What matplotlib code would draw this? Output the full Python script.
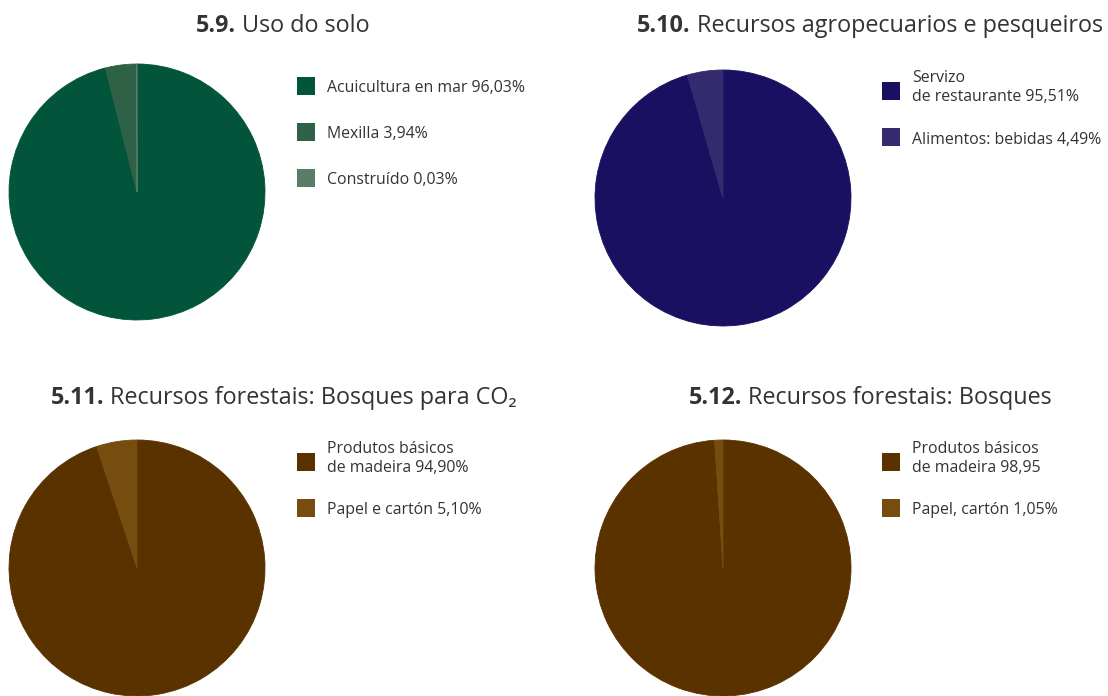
import matplotlib

matplotlib.use('Agg')
import matplotlib.pyplot as plt
from matplotlib.patches import Rectangle

plt.rcParams['font.family'] = ['Open Sans', 'DejaVu Sans']

W, H = 1108, 696
TXT = '#333333'

# chart data (one panel each)
nums = ['5.9.', '5.10.', '5.11.', '5.12.']
titles = ['Uso do solo', 'Recursos agropecuarios e pesqueiros',
          'Recursos forestais: Bosques para CO₂', 'Recursos forestais: Bosques']
soil_vals = [96.03, 3.94, 0.03]
soil_labels = ['Acuicultura en mar 96,03%', 'Mexilla 3,94%', 'Construído 0,03%']
agro_vals = [95.51, 4.49]
agro_labels = ['Servizo\nde restaurante 95,51%', 'Alimentos: bebidas 4,49%']
co2_vals = [94.90, 5.10]
co2_labels = ['Produtos básicos\nde madeira 94,90%', 'Papel e cartón 5,10%']
forest_vals = [98.95, 1.05]
forest_labels = ['Produtos básicos\nde madeira 98,95', 'Papel, cartón 1,05%']

greens = ['#02553a', '#2f6146', '#587c66']
blues = ['#1a1062', '#342b6e']
browns = ['#5a3200', '#764c0f']

# layout in pixels (y from top)
panels = [
    dict(vals=soil_vals, labels=soil_labels, colors=greens,
         c=(137, 192), title=(236, 26), leg=(297, 86)),
    dict(vals=agro_vals, labels=agro_labels, colors=blues,
         c=(723, 198), title=(691, 26), leg=(882, 91)),
    dict(vals=co2_vals, labels=co2_labels, colors=browns,
         c=(137, 568), title=(104, 398), leg=(297, 462)),
    dict(vals=forest_vals, labels=forest_labels, colors=browns,
         c=(723, 568), title=(742, 398), leg=(882, 462)),
]
R = 128
ROW = 46
SQ = 18

fig = plt.figure(figsize=(W / 100, H / 100), dpi=100)
ax = fig.add_axes([0, 0, 1, 1])

for i, p in enumerate(panels):
    cx, cy = p['c']
    wedges, _ = ax.pie(p['vals'], colors=p['colors'], startangle=90,
                       counterclock=False, radius=R, center=(cx, H - cy),
                       frame=True)
    for w, col in zip(wedges, p['colors']):
        w.set_edgecolor(col)
        w.set_linewidth(0.6)
    tx, ty = p['title']
    ax.text(tx, H - ty, nums[i], ha='right', va='center', fontsize=16.8,
            fontweight='bold', color=TXT)
    ax.text(tx + 6, H - ty, titles[i], ha='left', va='center', fontsize=16.8,
            color=TXT)
    lx, ly = p['leg']
    for k, (lab, col) in enumerate(zip(p['labels'], p['colors'])):
        yy = H - (ly + k * ROW)
        ax.add_patch(Rectangle((lx, yy - SQ / 2), SQ, SQ, color=col, lw=0))
        dy = 3.5 if '\n' in lab else -2.5
        ax.text(lx + 30, yy + dy, lab, ha='left', va='center', fontsize=11.4,
                color=TXT, linespacing=1.3)

ax.set_xlim(0, W)
ax.set_ylim(0, H)
ax.set_aspect('equal')
ax.axis('off')
fig.savefig('out.png', dpi=100)
